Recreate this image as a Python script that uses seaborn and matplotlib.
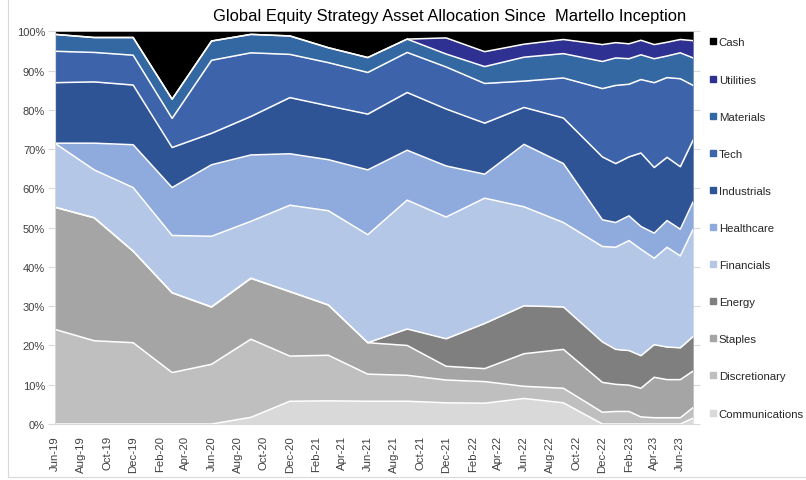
import pandas as pd
import numpy as np
import matplotlib
matplotlib.use('Agg')
import matplotlib.pyplot as plt
import matplotlib.dates as mdates
from matplotlib.lines import Line2D
from matplotlib.ticker import FuncFormatter
import seaborn as sns

# quarterly points until Dec-22, monthly after that
dates = ['2019-06-01', '2019-09-01', '2019-12-01', '2020-03-01', '2020-06-01',
         '2020-09-01', '2020-12-01', '2021-03-01', '2021-06-01', '2021-09-01',
         '2021-12-01', '2022-03-01', '2022-06-01', '2022-09-01', '2022-12-01',
         '2023-01-01', '2023-02-01', '2023-03-01', '2023-04-01', '2023-05-01',
         '2023-06-01', '2023-07-01']

communications = [0, 0, 0, 0, 0, 1.7, 5.8, 5.9, 5.8, 5.8, 5.4, 5.3, 6.5, 5.4,
                  0, 0, 0, 0, 0, 0, 0, 1.5]
discretionary = [24.1, 21.2, 20.7, 13.1, 15.2, 19.9, 11.5, 11.6, 6.9, 6.6, 5.8,
                 5.5, 3.1, 3.7, 3.0, 3.2, 3.2, 1.8, 1.6, 1.6, 1.6, 2.7]
staples = [31.1, 31.3, 23.3, 20.3, 14.6, 15.5, 16.4, 12.8, 8.0, 7.6, 3.5, 3.3,
           8.3, 9.9, 7.6, 6.9, 6.7, 7.3, 10.3, 9.7, 9.7, 9.3]
energy = [0, 0, 0, 0, 0, 0, 0, 0, 0, 4.2, 7.0, 11.5, 12.2, 10.8, 10.3, 8.9,
          8.8, 8.3, 8.3, 8.3, 8.1, 8.8]
financials = [16.3, 12.2, 16.2, 14.6, 18.0, 14.5, 22.0, 24.0, 27.5, 32.8, 31.0,
              31.9, 25.2, 21.5, 24.3, 26.0, 28.0, 27.1, 22.0, 25.4, 23.4, 27.3]
healthcare = [0, 6.8, 10.9, 12.2, 18.2, 16.9, 13.1, 13.0, 16.5, 12.7, 13.0,
              6.1, 15.9, 15.0, 6.8, 6.3, 6.3, 5.8, 6.4, 6.8, 6.8, 7.0]
industrials = [15.4, 15.6, 15.2, 10.2, 8.0, 9.8, 14.3, 13.7, 14.2, 14.7, 14.5,
               13.0, 9.4, 11.6, 16.0, 15.0, 15.0, 18.7, 16.7, 16.1, 15.9, 15.7]
tech = [8.0, 7.5, 7.6, 7.4, 18.6, 16.2, 11.0, 11.0, 10.6, 10.2, 10.7, 10.1,
        6.7, 10.2, 17.4, 19.9, 18.5, 18.7, 21.6, 20.3, 22.4, 13.9]
materials = [4.3, 3.8, 4.5, 4.9, 4.9, 4.7, 4.7, 3.8, 3.8, 3.4, 3.3, 4.3, 6.1,
             6.2, 6.9, 7.0, 6.5, 6.3, 6.1, 5.5, 6.6, 7.0]
utilities = [0, 0, 0, 0, 0, 0, 0, 0, 0, 0, 4.1, 3.8, 3.3, 3.6, 4.3, 3.9, 3.8,
             3.7, 3.6, 3.5, 3.4, 4.4]
cash = [0.8, 1.6, 1.6, 17.3, 2.5, 0.8, 1.2, 4.2, 6.7, 2.0, 1.7, 5.2, 3.3, 2.1,
        3.4, 2.9, 3.2, 2.3, 3.4, 2.8, 2.1, 2.4]

names = ['Communications', 'Discretionary', 'Staples', 'Energy', 'Financials',
         'Healthcare', 'Industrials', 'Tech', 'Materials', 'Utilities', 'Cash']
colors = ['#D9D9D9', '#BFBFBF', '#A5A5A5', '#7F7F7F', '#B4C7E7', '#8FAADC',
          '#2E5496', '#3D63AB', '#3468A3', '#2E3192', '#000000']

df = pd.DataFrame({'Communications': communications, 'Discretionary': discretionary,
                   'Staples': staples, 'Energy': energy, 'Financials': financials,
                   'Healthcare': healthcare, 'Industrials': industrials, 'Tech': tech,
                   'Materials': materials, 'Utilities': utilities, 'Cash': cash},
                  index=pd.to_datetime(dates))

sns.set_theme(style='white')
plt.rcParams['font.family'] = ['Liberation Sans', 'DejaVu Sans']

fig = plt.figure(figsize=(8.06, 4.81), dpi=100)
ax = fig.add_axes([0.068, 0.1164, 0.792, 0.8166])

x = df.index
ax.stackplot(x, *[df[n].values for n in names], colors=colors, linewidth=0)

# white separators between the layers
cum = df[names].cumsum(axis=1)
for n in names[:-1]:
    sns.lineplot(x=x, y=cum[n].values, ax=ax, color='white', linewidth=1.1)

ax.set_xlabel('')
ax.set_ylabel('')
ax.set_xlim(pd.Timestamp('2019-06-01'), pd.Timestamp('2023-07-01'))
ax.set_ylim(0, 100)
ax.set_yticks(np.arange(0, 101, 10))
ax.yaxis.set_major_formatter(FuncFormatter(lambda v, p: f'{v:.0f}%'))
ax.xaxis.set_major_locator(mdates.MonthLocator(bymonth=[2, 4, 6, 8, 10, 12]))
ax.xaxis.set_major_formatter(mdates.DateFormatter('%b-%y'))
plt.setp(ax.get_xticklabels(), rotation=90)

ax.tick_params(axis='y', labelsize=8, colors='#404040', left=True, right=True,
               length=5, width=0.8, direction='out', pad=2)
ax.tick_params(axis='y', which='both', color='#D9D9D9')
ax.tick_params(axis='x', labelsize=8.2, colors='#404040', bottom=False, pad=2)

for side in ['top', 'right']:
    ax.spines[side].set_visible(False)
ax.spines['left'].set_color('#D9D9D9')
ax.spines['bottom'].set_color('#D9D9D9')
ax.spines['left'].set_linewidth(0.8)
ax.spines['bottom'].set_linewidth(0.8)
ax.grid(False)

fig.text(0.558, 0.965, 'Global Equity Strategy Asset Allocation Since  Martello Inception',
         ha='center', va='center', fontsize=11.9, color='#000000')

handles = [Line2D([], [], marker='s', linestyle='none', markersize=4.5,
                  markerfacecolor=c, markeredgecolor=c) for c in colors]
leg = fig.legend(handles[::-1], names[::-1], loc='upper left',
                 bbox_to_anchor=(0.881, 0.920), frameon=False, fontsize=8.2,
                 labelspacing=2.38, handlelength=0.5, handletextpad=0.25,
                 borderaxespad=0, borderpad=0)

# faint frame of the original picture
fig.add_artist(Line2D([0.01, 0.01], [0.006, 1.0], color='#D9D9D9', linewidth=0.8,
                      transform=fig.transFigure))
fig.add_artist(Line2D([0.01, 1.0], [0.006, 0.006], color='#D9D9D9', linewidth=0.8,
                      transform=fig.transFigure))

fig.savefig('out.png', dpi=100)
print('Wrote out.png')
